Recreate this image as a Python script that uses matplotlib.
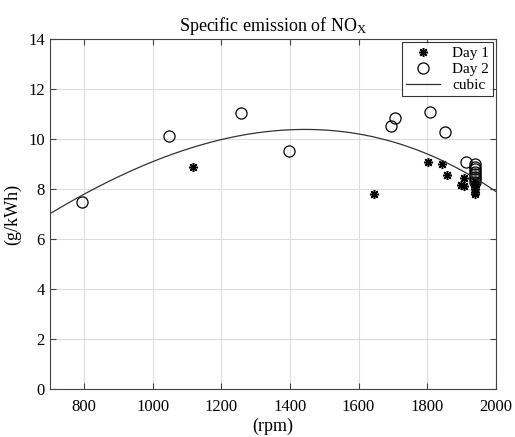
import numpy as np
import matplotlib
matplotlib.use("Agg")
import matplotlib.pyplot as plt

plt.rcParams['font.family'] = ['Liberation Serif', 'DejaVu Serif']
plt.rcParams['mathtext.fontset'] = 'custom'
plt.rcParams['mathtext.rm'] = 'Liberation Serif'
plt.rcParams['mathtext.it'] = 'Liberation Serif:italic'

# Day 1 (asterisks)
day1_rpm = [1116, 1645, 1802, 1843, 1859, 1906, 1900, 1908,
            1938, 1938, 1938, 1938, 1938, 1938]
day1_val = [8.9, 7.8, 9.1, 9.0, 8.57, 8.46, 8.16, 8.13,
            8.35, 8.2, 8.1, 8.0, 7.9, 7.8]

# Day 2 (circles)
day2_rpm = [795, 1048, 1256, 1398, 1696, 1706, 1807, 1851, 1914,
            1938, 1938, 1938, 1938, 1938, 1938, 1938, 1938]
day2_val = [7.5, 10.13, 11.04, 9.54, 10.54, 10.84, 11.08, 10.28, 9.1,
            9.0, 8.9, 8.8, 8.7, 8.6, 8.5, 8.4, 8.3]

# cubic curve readings
curve_rpm = [700, 1000, 1200, 1400, 1600, 1800, 2000]
curve_val = [7.0, 9.2, 9.9, 10.37, 10.24, 9.44, 7.9]

coef = np.polyfit(curve_rpm, curve_val, 3)
xs = np.linspace(700, 2000, 300)
ys = np.polyval(coef, xs)

fig = plt.figure(figsize=(5.15, 4.37), dpi=100)
ax = fig.add_axes([0.0967, 0.109, 0.866, 0.801])

ax.plot(day1_rpm, day1_val, linestyle='none', marker=(8, 2, 0), markersize=6.5,
        color='black', markeredgewidth=1.1, label='Day 1')
ax.plot(day2_rpm, day2_val, linestyle='none', marker='o', markersize=8,
        markerfacecolor='none', markeredgecolor='black', markeredgewidth=0.9,
        label='Day 2')
ax.plot(xs, ys, color='#333333', linewidth=0.9, label='cubic')

ax.set_xlim(700, 2000)
ax.set_ylim(0, 14)
ax.set_xticks([800, 1000, 1200, 1400, 1600, 1800, 2000])
ax.set_yticks([0, 2, 4, 6, 8, 10, 12, 14])
ax.grid(True, color='#dddddd', linewidth=0.8)
ax.set_axisbelow(True)
ax.tick_params(direction='in', top=True, right=True, labelsize=12, length=4,
               color='#444444')
ax.tick_params(axis='x', pad=7)
for s in ax.spines.values():
    s.set_color('#444444')
    s.set_linewidth(0.8)

ax.set_xlabel('(rpm)', fontsize=13, labelpad=2)
ax.set_ylabel('(g/kWh)', fontsize=13, labelpad=5)
ax.set_title('Specific emission of NO$_\\mathrm{X}$', fontsize=13, pad=6)

leg = ax.legend(loc='upper right', fontsize=11, frameon=True, fancybox=False,
                edgecolor='black', borderpad=0.3, labelspacing=0.15,
                handlelength=2.2, borderaxespad=0.15, markerfirst=True)
leg.get_frame().set_linewidth(0.8)

fig.savefig('out.png', dpi=100)
